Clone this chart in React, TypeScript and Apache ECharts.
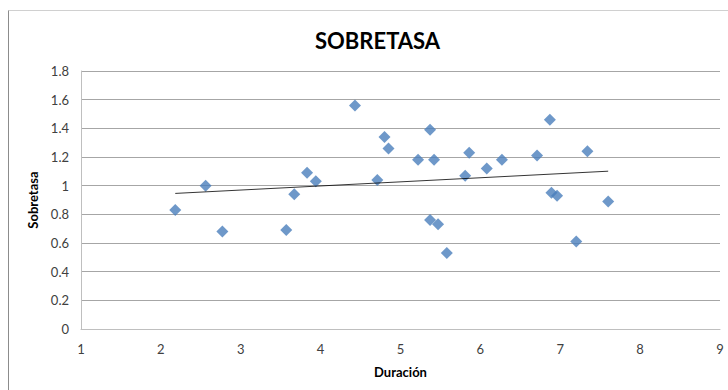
import React, { useEffect, useRef } from "react";
import * as echarts from "echarts";

const titleText = "SOBRETASA";
const xName = "Duración";
const yName = "Sobretasa";

const duracion = [2.18, 2.56, 2.77, 3.57, 3.67, 3.83, 3.94, 4.43, 4.71, 4.80, 4.85, 5.22, 5.37, 5.42, 5.37, 5.47, 5.58, 5.81, 5.86, 6.08, 6.27, 6.71, 6.87, 6.89, 6.96, 7.20, 7.34, 7.60];
const sobretasa = [0.83, 1.00, 0.68, 0.69, 0.94, 1.09, 1.03, 1.56, 1.04, 1.34, 1.26, 1.18, 1.39, 1.18, 0.76, 0.73, 0.53, 1.07, 1.23, 1.12, 1.18, 1.21, 1.46, 0.95, 0.93, 0.61, 1.24, 0.89];

const trendX = [2.18, 7.6];
const trendY = [0.946, 1.101];

const FONT = "Lato, 'Open Sans', sans-serif";

export default function App() {
  const ref = useRef<HTMLDivElement>(null);
  useEffect(() => {
    if (!ref.current) return;
    const chart = echarts.init(ref.current, undefined, { renderer: "svg" });
    chart.setOption({
      animation: false,
      backgroundColor: "#fff",
      title: {
        text: titleText,
        left: 310,
        top: 24,
        textStyle: { fontFamily: FONT, fontSize: 22, fontWeight: "bold", color: "#000" },
      },
      graphic: [
        { type: "line", shape: { x1: 8.5, y1: 10.5, x2: 728, y2: 10.5 }, style: { stroke: "#d0d0d0", lineWidth: 1 } },
        { type: "line", shape: { x1: 8.5, y1: 10.5, x2: 8.5, y2: 390 }, style: { stroke: "#8c8c8c", lineWidth: 1 } },
      ],
      grid: { left: 81, top: 71, right: 8, bottom: 61, containLabel: false },
      xAxis: {
        type: "value",
        min: 1,
        max: 9,
        interval: 1,
        name: xName,
        nameLocation: "middle",
        nameGap: 36,
        nameTextStyle: { fontFamily: FONT, fontSize: 13, fontWeight: "bold", color: "#000" },
        axisLine: { show: true, onZero: false, lineStyle: { color: "#bfbfbf" } },
        axisTick: { show: false },
        splitLine: { show: false },
        axisLabel: { fontFamily: FONT, fontSize: 13, color: "#404040", margin: 13 },
      },
      yAxis: {
        type: "value",
        min: 0,
        max: 1.8,
        interval: 0.2,
        name: yName,
        nameLocation: "middle",
        nameGap: 38,
        nameRotate: 90,
        nameTextStyle: { fontFamily: FONT, fontSize: 13, fontWeight: "bold", color: "#000" },
        axisLine: { show: true, lineStyle: { color: "#bfbfbf" } },
        axisTick: { show: false },
        splitLine: { show: true, lineStyle: { color: "#a6a6a6", width: 1 } },
        axisLabel: { fontFamily: FONT, fontSize: 13, color: "#404040", margin: 12 },
      },
      series: [
        {
          type: "scatter",
          data: duracion.map((d, i) => [d, sobretasa[i]]),
          symbol: "diamond",
          symbolSize: 12,
          itemStyle: { color: "#4a7ebb" },
          z: 3,
        },
        {
          type: "line",
          data: trendX.map((d, i) => [d, trendY[i]]),
          symbol: "none",
          lineStyle: { color: "#000", width: 0.8 },
          z: 4,
        },
      ],
    });
    return () => chart.dispose();
  }, []);
  return <div ref={ref} style={{ width: 728, height: 390, position: "absolute", left: 0, top: 0 }} />;
}
